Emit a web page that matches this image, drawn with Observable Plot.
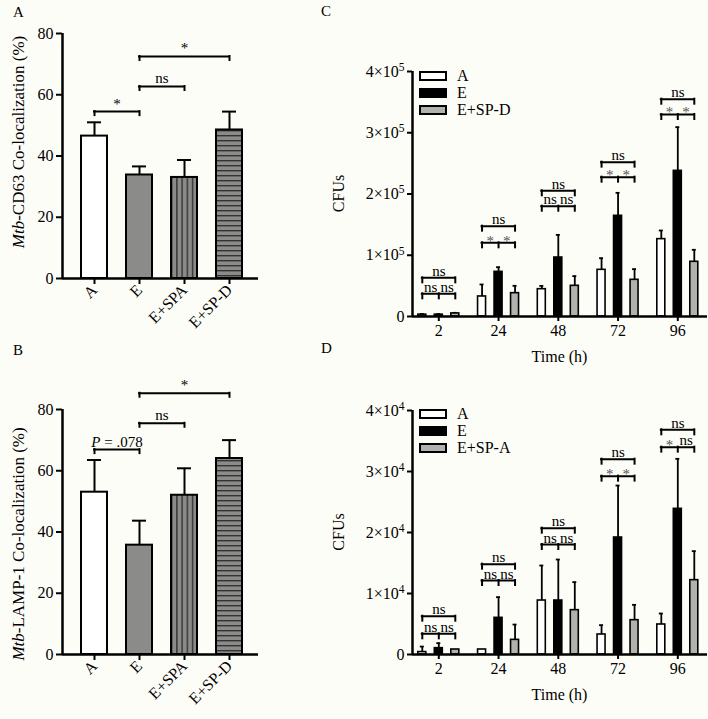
<!DOCTYPE html>
<html><head><meta charset="utf-8">
<script src="https://cdn.jsdelivr.net/npm/d3@7"></script>
<script src="https://cdn.jsdelivr.net/npm/@observablehq/plot@0.6"></script>
<style>
body{margin:0;background:#fdfdf8;}
#fig{position:relative;width:708px;height:719px;overflow:hidden;font-family:"Liberation Serif",serif;color:#000;}
#fig svg text{font-family:"Liberation Serif",serif;}
.letter{position:absolute;font-size:15px;line-height:1;}
.legend{position:absolute;font-size:16px;line-height:17px;}
.legend .row{display:flex;align-items:center;height:17px;}
.legend .sw{width:28px;height:10px;box-sizing:border-box;border:2px solid #000;margin-right:10px;}
</style></head>
<body>
<svg width="0" height="0" style="position:absolute"><defs>
<pattern id="vstripe" patternUnits="userSpaceOnUse" width="5.2" height="10"><rect width="5.2" height="10" fill="#8b8b89"/><rect x="0" width="1.4" height="10" fill="#333333"/></pattern>
<pattern id="hstripe" patternUnits="userSpaceOnUse" width="10" height="5"><rect width="10" height="5" fill="#8b8b89"/><rect y="0" width="10" height="1.4" fill="#333333"/></pattern>
</defs></svg>
<div id="fig"></div>
<script>
// ---------- data ----------
const groupsAB = ["A", "E", "E+SPA", "E+SP-D"];
const cd63Mean = [46.5, 33.8, 33.0, 48.5];
const cd63Err = [4.5, 2.8, 5.7, 6.0];
const cd63BrFrom = [0, 1, 1];
const cd63BrTo = [1, 2, 3];
const cd63BrY = [54.5, 62.7, 72.5];
const cd63BrLabel = ["*", "ns", "*"];
const lampMean = [53.0, 35.7, 52.0, 64.0];
const lampErr = [10.5, 8.0, 8.8, 6.0];
const lampBrFrom = [0, 1, 1];
const lampBrTo = [1, 2, 3];
const lampBrY = [66.9, 75.5, 85.3];
const lampBrLabel = ["P = .078", "ns", "*"];
const abTicks = [0, 20, 40, 60, 80];

const hours = ["2", "24", "48", "72", "96"];
const cSeries = ["A", "E", "E+SP-D"];
const cAMean = [3000, 32700, 44600, 76200, 126300];
const cAErr = [1000, 19600, 5400, 19000, 14100];
const cEMean = [3000, 72900, 96300, 164400, 237800];
const cEErr = [1000, 7600, 37000, 37500, 71300];
const cSMean = [5000, 38100, 50100, 59900, 89300];
const cSErr = [1000, 12000, 15800, 17400, 19600];
const cLow = [37000, 120300, 180100, 227500, 329800];
const cHigh = [63100, 147500, 205200, 252000, 354800];
const cLowLeft = ["ns", "*", "ns", "*", "*"];
const cLowRight = ["ns", "*", "ns", "*", "*"];
const cHighLabel = ["ns", "ns", "ns", "ns", "ns"];
const cTicks = [0, 1e5, 2e5, 3e5, 4e5];

const dSeries = ["A", "E", "E+SP-A"];
const dAMean = [400, 820, 8850, 3280, 4920];
const dAErr = [900, 0, 5740, 1530, 1800];
const dEMean = [1040, 6010, 8850, 19180, 23880];
const dEErr = [820, 3390, 6720, 8520, 8200];
const dSMean = [820, 2400, 7270, 5630, 12190];
const dSErr = [0, 2510, 4590, 2510, 4750];
const dLow = [3390, 12130, 18030, 29240, 33990];
const dHigh = [6280, 14810, 20710, 32020, 36830];
const dLowLeft = ["ns", "ns", "ns", "*", "*"];
const dLowRight = ["ns", "ns", "ns", "*", "ns"];
const dHighLabel = ["ns", "ns", "ns", "ns", "ns"];
const dTicks = [0, 1e4, 2e4, 3e4, 4e4];

// ---------- helpers ----------
const fig = document.getElementById("fig");
const FONT = '"Liberation Serif", serif';
function place(svg, left, top) {
  svg.style.position = "absolute";
  svg.style.left = left + "px";
  svg.style.top = top + "px";
  svg.style.overflow = "visible";
  svg.style.background = "transparent";
  svg.setAttribute("font-family", FONT);
  fig.appendChild(svg);
  return svg;
}
function letter(t, left, top) {
  const d = document.createElement("div");
  d.className = "letter"; d.textContent = t;
  d.style.left = left + "px"; d.style.top = top + "px";
  fig.appendChild(d);
}
function legend(labels, fills, left, top) {
  const div = document.createElement("div");
  div.className = "legend";
  div.style.left = left + "px"; div.style.top = top + "px";
  labels.forEach((l, i) => {
    const r = document.createElement("div"); r.className = "row";
    const s = document.createElement("div"); s.className = "sw"; s.style.background = fills[i];
    const t = document.createElement("span"); t.textContent = l;
    r.appendChild(s); r.appendChild(t); div.appendChild(r);
  });
  fig.appendChild(div);
}

// ---------- panels A / B ----------
function colocPanel(o) {
  const W = o.width, H = o.height, ml = 62, mr = W - 258;
  const plotH = H - o.mt - o.mb, plotW = W - ml - mr;
  const pxCat = 45, firstOff = 32;
  const xDomain = [-firstOff / pxCat, (plotW - firstOff) / pxCat];
  const hw = 13 / pxCat, capHw = 7 / pxCat, brTick = 4 * 80 / plotH;
  const data = groupsAB.map((g, i) => ({i, g, mean: o.means[i], err: o.errs[i]}));
  const br = o.brFrom.map((f, k) => ({from: f, to: o.brTo[k], y: o.brY[k], label: o.brLabel[k]}));
  const brEnds = br.flatMap(b => [{x: b.from, y: b.y}, {x: b.to, y: b.y}]);
  const svg = Plot.plot({
    width: W, height: H, marginLeft: ml, marginRight: mr, marginTop: o.mt, marginBottom: o.mb,
    style: {fontFamily: FONT, fontSize: "16px", color: "#000", background: "transparent", overflow: "visible"},
    x: {domain: xDomain}, y: {domain: [0, 80]},
    color: {domain: groupsAB, range: ["#ffffff", "#8b8b89", "url(#vstripe)", "url(#hstripe)"]},
    marks: [
      Plot.rectY(data, {x1: d => d.i - hw, x2: d => d.i + hw, y: "mean", fill: "g", stroke: "#000", strokeWidth: 2}),
      Plot.ruleX(data, {x: "i", y1: "mean", y2: d => d.mean + d.err, strokeWidth: 2}),
      Plot.ruleY(data, {y: d => d.mean + d.err, x1: d => d.i - capHw, x2: d => d.i + capHw, strokeWidth: 2}),
      Plot.ruleY(br, {y: "y", x1: "from", x2: "to", strokeWidth: 2, strokeLinecap: "square"}),
      Plot.ruleX(brEnds, {x: "x", y1: "y", y2: d => d.y - brTick, strokeWidth: 2, strokeLinecap: "square"}),
      Plot.text(br, {x: d => (d.from + d.to) / 2, y: "y", text: "label", lineAnchor: "bottom", dy: -3, fontSize: 15, fill: "#000"}),
      Plot.ruleX([xDomain[0]], {y1: 0, y2: 80, strokeWidth: 2.5}),
      Plot.ruleY([0], {strokeWidth: 2.5}),
      Plot.axisY({ticks: abTicks, tickSize: 6, tickPadding: 3, strokeWidth: 2, label: null}),
      Plot.axisX({ticks: [0, 1, 2, 3], tickFormat: i => groupsAB[i], tickRotate: -45, tickSize: 6, tickPadding: 3, strokeWidth: 2, label: null})
    ]
  });
  place(svg, o.left, o.top);
  d3.select(svg).selectAll("text").each(function() {
    if (this.textContent === "P = .078") {
      this.textContent = "";
      d3.select(this).append("tspan").attr("font-style", "italic").text("P");
      d3.select(this).append("tspan").text(" = .078");
    }
  });
  const yl = d3.select(svg).append("text")
    .attr("transform", `translate(${o.ylx},${o.yly}) rotate(-90)`)
    .attr("text-anchor", "middle").attr("font-size", 17).attr("fill", "#000");
  yl.append("tspan").attr("font-style", "italic").text("Mtb");
  yl.append("tspan").text(o.ylabel);
  return svg;
}

const svgA = colocPanel({left: 0, top: 0, width: 300, height: 345, mt: 33, mb: 67,
  means: cd63Mean, errs: cd63Err, brFrom: cd63BrFrom, brTo: cd63BrTo, brY: cd63BrY, brLabel: cd63BrLabel,
  ylabel: "-CD63 Co-localization (%)", ylx: 24, yly: 142});
const svgB = colocPanel({left: 0, top: 350, width: 300, height: 369, mt: 59, mb: 65,
  means: lampMean, errs: lampErr, brFrom: lampBrFrom, brTo: lampBrTo, brY: lampBrY, brLabel: lampBrLabel,
  ylabel: "-LAMP-1 Co-localization (%)", ylx: 24, yly: 194});
document.getElementById("vstripe").setAttribute("x", svgA.scale("x").apply(2 - 13 / 45));

// ---------- panels C / D ----------
function cfuPanel(o) {
  const W = 408, ml = 112, mr = 1, H = o.height;
  const plotH = H - o.mt - o.mb, plotW = W - ml - mr;
  const pxGrp = 59.75, firstOff = 26.3;
  const xDomain = [-firstOff / pxGrp, (plotW - firstOff) / pxGrp];
  const off = 16.5 / pxGrp, hw = 4 / pxGrp, capHw = 2 / pxGrp;
  const yMax = o.ticks[o.ticks.length - 1];
  const brTick = 5 * yMax / plotH;
  const fills = ["#ffffff", "#000000", "#b1b1ae"];
  const bars = [];
  o.series.forEach((s, si) => hours.forEach((h, g) => bars.push({s, si, x: g + (si - 1) * off, mean: o.means[si][g], err: o.errs[si][g]})));
  const errBars = bars.filter(d => d.err > 0);
  const low = hours.map((h, g) => ({g, y: o.low[g], l: o.lowL[g], r: o.lowR[g]}));
  const high = hours.map((h, g) => ({g, y: o.high[g], label: o.highL[g]}));
  const lowTicks = low.flatMap(b => [-1, 0, 1].map(k => ({x: b.g + k * off, y: b.y})));
  const highTicks = high.flatMap(b => [-1, 1].map(k => ({x: b.g + k * off, y: b.y})));
  const lowLabels = low.flatMap(b => [{x: b.g - off / 2, y: b.y, t: b.l}, {x: b.g + off / 2, y: b.y, t: b.r}]);
  const svg = Plot.plot({
    width: W, height: H, marginLeft: ml, marginRight: mr, marginTop: o.mt, marginBottom: o.mb,
    style: {fontFamily: FONT, fontSize: "16px", color: "#000", background: "transparent", overflow: "visible"},
    x: {domain: xDomain}, y: {domain: [0, yMax]},
    color: {domain: o.series, range: fills},
    marks: [
      Plot.ruleX(errBars, {x: "x", y1: "mean", y2: d => d.mean + d.err, strokeWidth: 1.8}),
      Plot.ruleY(errBars, {y: d => d.mean + d.err, x1: d => d.x - capHw, x2: d => d.x + capHw, strokeWidth: 1.8}),
      Plot.rectY(bars, {x1: d => d.x - hw, x2: d => d.x + hw, y: "mean", fill: "s", stroke: "#000", strokeWidth: 1.6}),
      Plot.ruleY(low, {y: "y", x1: d => d.g - off, x2: d => d.g + off, strokeWidth: 2, strokeLinecap: "square"}),
      Plot.ruleY(high, {y: "y", x1: d => d.g - off, x2: d => d.g + off, strokeWidth: 2, strokeLinecap: "square"}),
      Plot.ruleX(lowTicks, {x: "x", y1: "y", y2: d => d.y - brTick, strokeWidth: 2, strokeLinecap: "square"}),
      Plot.ruleX(highTicks, {x: "x", y1: "y", y2: d => d.y - brTick, strokeWidth: 2, strokeLinecap: "square"}),
      Plot.text(lowLabels.filter(d => d.t !== "*"), {x: "x", y: "y", text: "t", lineAnchor: "bottom", dy: -2, fontSize: 15, fill: "#000"}),
      Plot.text(lowLabels.filter(d => d.t === "*"), {x: "x", y: "y", text: "t", lineAnchor: "bottom", dy: 3, fontSize: 15, fill: "#555"}),
      Plot.text(high, {x: "g", y: "y", text: "label", lineAnchor: "bottom", dy: -2, fontSize: 15, fill: "#000"}),
      Plot.ruleX([xDomain[0]], {y1: 0, y2: yMax, strokeWidth: 2.5}),
      Plot.ruleY([0], {strokeWidth: 2.5}),
      Plot.axisY({ticks: o.ticks, tickSize: 5, tickPadding: 3, strokeWidth: 2, label: null,
        tickFormat: d => d === 0 ? "0" : `${d / (yMax / 4)}×10|${o.exp}`}),
      Plot.axisX({ticks: [0, 1, 2, 3, 4], tickFormat: i => hours[i], tickSize: 5, tickPadding: 3, strokeWidth: 2, label: null})
    ]
  });
  place(svg, o.left, o.top);
  d3.select(svg).selectAll("text").each(function() {
    const t = this.textContent;
    if (t.includes("×10|")) {
      const [a, b] = t.split("|");
      this.textContent = a;
      d3.select(this).append("tspan").attr("dy", "-0.5em").attr("font-size", "0.72em").text(b);
    }
  });
  const sel = d3.select(svg);
  sel.append("text").attr("x", ml + plotW / 2).attr("y", H - o.mb + 46)
    .attr("text-anchor", "middle").attr("font-size", 16).attr("fill", "#000").text("Time (h)");
  sel.append("text").attr("transform", `translate(${o.ylx},${o.mt + plotH / 2}) rotate(-90)`)
    .attr("text-anchor", "middle").attr("font-size", 16).attr("fill", "#000").text("CFUs");
  legend(o.series, fills, 419, o.legendTop);
  return svg;
}

cfuPanel({left: 300, top: 0, height: 372, mt: 71, mb: 56, series: cSeries,
  means: [cAMean, cEMean, cSMean], errs: [cAErr, cEErr, cSErr],
  low: cLow, high: cHigh, lowL: cLowLeft, lowR: cLowRight, highL: cHighLabel,
  ticks: cTicks, exp: "5", ylx: 44, legendTop: 67});
cfuPanel({left: 300, top: 350, height: 369, mt: 60, mb: 65, series: dSeries,
  means: [dAMean, dEMean, dSMean], errs: [dAErr, dEErr, dSErr],
  low: dLow, high: dHigh, lowL: dLowLeft, lowR: dLowRight, highL: dHighLabel,
  ticks: dTicks, exp: "4", ylx: 44, legendTop: 405});

letter("A", 13, 5);
letter("B", 13, 343);
letter("C", 321, 4);
letter("D", 321, 341);
</script>
</body></html>
